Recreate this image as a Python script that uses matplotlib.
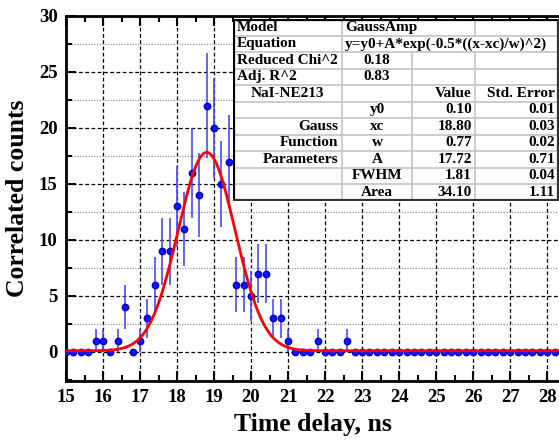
import numpy as np
import matplotlib
matplotlib.use("Agg")
import matplotlib.pyplot as plt
from matplotlib.ticker import MultipleLocator

plt.rcParams['font.family'] = ['Liberation Serif', 'DejaVu Serif']
plt.rcParams['font.weight'] = 'bold'

# measured data: time bins (ns) and counts per bin
time_ns = np.round(np.arange(15.0, 28.41, 0.2), 1)
counts = np.array([0, 0, 0, 0, 1, 1, 0, 1, 4, 0,
                   1, 3, 6, 9, 9, 13, 11, 16, 14, 22,
                   20, 15, 17, 6, 6, 5, 7, 7, 3, 3,
                   1, 0, 0, 0, 1, 0, 0, 0, 1] + [0] * 29, dtype=float)
errors = np.sqrt(counts)  # Poisson errors

# fit parameters (GaussAmp)
y0, xc, w, A = 0.10, 18.80, 0.77, 17.72

# fit-result table
table_top = [("Model", "GaussAmp"),
             ("Equation", "y=y0+A*exp(-0.5*((x-xc)/w)^2)"),
             ("Reduced Chi^2", "0.18"),
             ("Adj. R^2", "0.83")]
group_label = "NaI-NE213"
param_names = ["y0", "xc", "w", "A", "FWHM", "Area"]
param_values = ["0.10", "18.80", "0.77", "17.72", "1.81", "34.10"]
param_errors = ["0.01", "0.03", "0.02", "0.71", "0.04", "1.11"]
side_labels = ["", "Gauss", "Function", "Parameters", "", ""]

W, H = 559, 446
fig = plt.figure(figsize=(W / 100, H / 100), dpi=100)
ax = fig.add_axes([66 / W, (H - 381) / H, (W - 66) / W, (381 - 16) / H])

ax.set_xlim(15, 28.32)
ax.set_ylim(-2.6, 30)
ax.xaxis.set_major_locator(MultipleLocator(1))
ax.xaxis.set_minor_locator(MultipleLocator(0.5))
ax.yaxis.set_major_locator(MultipleLocator(5))
ax.yaxis.set_minor_locator(MultipleLocator(2.5))

ax.grid(which='major', axis='both', color='black', linestyle=(0, (3, 2)), linewidth=0.9)
ax.grid(which='minor', axis='y', color='#999999', linestyle=(0, (1, 1.2)), linewidth=0.9)
ax.set_axisbelow(True)

ax.tick_params(which='both', direction='in', top=True, right=False, width=1.5,
               labelsize=13.5, pad=6)
ax.tick_params(which='major', length=7)
ax.tick_params(which='minor', length=4)
for s in ['left', 'bottom', 'top']:
    ax.spines[s].set_linewidth(2)
ax.spines['right'].set_visible(False)
for lab in ax.get_xticklabels() + ax.get_yticklabels():
    lab.set_fontweight('bold')

ax.errorbar(time_ns, counts, yerr=errors, fmt='none', ecolor='#4848ff',
            elinewidth=1.4, alpha=0.85, zorder=3, clip_on=True)
ax.plot(time_ns, counts, 'o', color='#1414ff', markeredgecolor='#0000cc',
        markersize=4.6, zorder=4, clip_on=True)

xf = np.linspace(15, 28.4, 600)
ax.plot(xf, y0 + A * np.exp(-0.5 * ((xf - xc) / w) ** 2), color='#ff0000',
        linewidth=2, zorder=5)

ax.set_xlabel("Time delay, ns", fontsize=18.5, fontweight='bold', labelpad=5)
ax.set_ylabel("Correlated counts", fontsize=18.5, fontweight='bold', labelpad=7)

# table drawn in pixel coordinates
tx0, tx1, ty0, ty1 = 233, 560, 19, 200.7
tab = fig.add_axes([tx0 / W, (H - ty1) / H, (tx1 - tx0) / W, (ty1 - ty0) / H])
tab.set_xlim(tx0, tx1)
tab.set_ylim(ty1, ty0)
tab.axis('off')
tab.add_patch(plt.Rectangle((tx0, ty0), tx1 - tx0, ty1 - ty0, facecolor='white',
                            edgecolor='none', zorder=0))
nrows = 11
rh = (ty1 - ty0) / nrows
c1, c2, c3, cr = 342, 412, 475, 558
gray = '#c8c8c8'
for k in range(1, nrows):
    tab.plot([tx0, cr], [ty0 + k * rh] * 2, color=gray, lw=1.3)
vlines = {0: [c1, c3], 1: [c1]}
for k in range(nrows):
    for cx in vlines.get(k, [c1, c2, c3]):
        tab.plot([cx, cx], [ty0 + k * rh, ty0 + (k + 1) * rh], color=gray, lw=1.3)
tab.plot([tx0 + 0.8, tx0 + 0.8, cr], [ty1 - 0.8, ty0 + 0.8, ty0 + 0.8], color='black', lw=1.6)
tab.plot([tx0 + 0.8, cr, cr], [ty1 - 0.8, ty1 - 0.8, ty0 + 0.8], color='#333333', lw=1.6)

fs = 11
tk = dict(va='center', fontsize=fs, fontweight='bold')
for k, (lab, val) in enumerate(table_top):
    yc = ty0 + (k + 0.5) * rh
    tab.text(237, yc, lab, ha='left', **tk)
    if k < 2:
        tab.text(345, yc, val, ha='left', **tk)
    else:
        tab.text((c1 + c2) / 2, yc, val, ha='center', **tk)

yc = ty0 + 4.5 * rh
tab.text((tx0 + c1) / 2, yc, group_label, ha='center', **tk)
tab.text(472, yc, "Value", ha='right', **tk)
tab.text(555, yc, "Std. Error", ha='right', **tk)
for i in range(len(param_names)):
    yc = ty0 + (5 + i + 0.5) * rh
    tab.text(338, yc, side_labels[i], ha='right', **tk)
    tab.text((c1 + c2) / 2, yc, param_names[i], ha='center', **tk)
    tab.text(472, yc, param_values[i], ha='right', **tk)
    tab.text(555, yc, param_errors[i], ha='right', **tk)

fig.savefig("out.png", dpi=100)
